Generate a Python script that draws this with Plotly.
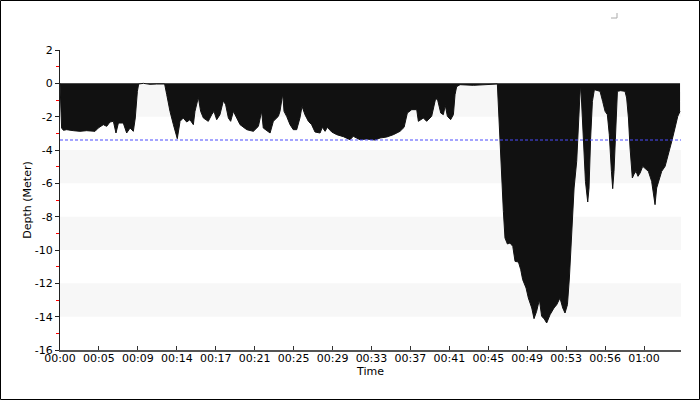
import plotly.graph_objects as go

# elapsed time (seconds) and depth (metres)
time_s = [0, 4, 10, 21, 41, 82, 123, 164, 216, 236, 267, 288, 308, 329, 345, 360, 390, 411, 432, 452,
          464, 477, 485, 514, 555, 596, 645, 658, 678, 699, 723, 740, 760, 781, 801, 822, 832, 853, 867,
          884, 914, 935, 949, 966, 986, 1007, 1021, 1038, 1052, 1069, 1089, 1110, 1151, 1192, 1223, 1243,
          1253, 1295, 1315, 1346, 1356, 1366, 1373, 1381, 1397, 1418, 1438, 1459, 1479, 1492, 1510, 1531,
          1551, 1572, 1603, 1617, 1634, 1648, 1675, 1706, 1747, 1788, 1808, 1849, 1890, 1942, 1973, 2014,
          2055, 2096, 2121, 2141, 2168, 2199, 2209, 2240, 2260, 2291, 2314, 2326, 2347, 2363, 2375, 2388,
          2408, 2425, 2435, 2445, 2466, 2548, 2630, 2696, 2700, 2712, 2723, 2733, 2743, 2758, 2774, 2791,
          2805, 2826, 2840, 2852, 2873, 2887, 2908, 2922, 2938, 2955, 2969, 2984, 3000, 3021, 3045, 3062,
          3082, 3099, 3113, 3128, 3140, 3154, 3169, 3185, 3195, 3202, 3208, 3214, 3226, 3239, 3253, 3261,
          3271, 3282, 3294, 3312, 3329, 3345, 3360, 3374, 3386, 3399, 3407, 3415, 3426, 3436, 3456, 3483,
          3493, 3504, 3514, 3528, 3539, 3551, 3563, 3576, 3592, 3608, 3627, 3647, 3660, 3668, 3678, 3693,
          3709, 3730, 3750, 3771, 3791, 3808, 3822]
depth_m = [0.0, -1.88, -2.68, -2.82, -2.78, -2.84, -2.88, -2.84, -2.88, -2.68, -2.48, -2.58, -2.32, -2.28,
           -2.98, -2.38, -2.38, -2.98, -2.68, -2.88, -2.08, -0.48, -0.04, 0.0, -0.06, -0.04, -0.04, -0.68,
           -1.68, -2.48, -3.32, -2.28, -2.08, -2.32, -2.18, -2.48, -1.68, -0.84, -1.68, -2.08, -2.28, -1.88,
           -1.68, -2.18, -1.88, -1.04, -1.28, -2.08, -2.28, -1.68, -2.08, -2.48, -2.78, -2.88, -2.58, -1.68,
           -2.68, -2.98, -2.28, -1.98, -1.68, -0.88, -0.64, -1.68, -1.98, -2.48, -2.78, -2.78, -2.08, -1.38,
           -1.88, -2.28, -2.48, -2.92, -2.98, -2.64, -2.88, -2.64, -2.92, -3.08, -3.20, -3.38, -3.18, -3.38,
           -3.34, -3.40, -3.28, -3.22, -3.08, -2.88, -2.64, -1.78, -1.58, -1.58, -2.28, -2.08, -2.28, -1.98,
           -0.98, -0.92, -1.78, -1.88, -1.32, -1.98, -2.18, -1.88, -0.68, -0.20, -0.08, -0.12, -0.08, -0.04,
           -0.88, -3.68, -5.68, -7.68, -9.28, -9.64, -9.58, -9.78, -10.68, -10.72, -11.18, -11.78, -12.28,
           -12.88, -13.48, -14.12, -13.68, -12.98, -13.98, -14.12, -14.38, -13.88, -13.48, -13.28, -12.88,
           -13.48, -13.78, -13.28, -11.68, -8.68, -6.28, -4.68, -2.68, -0.68, -0.08, -0.88, -3.68, -5.88,
           -7.12, -6.28, -3.28, -1.08, -0.38, -0.44, -0.48, -1.08, -1.68, -1.88, -3.08, -5.28, -6.32, -5.28,
           -2.28, -0.48, -0.44, -0.48, -0.88, -2.08, -3.88, -5.68, -5.44, -5.28, -5.58, -5.38, -4.98, -5.12,
           -5.28, -5.88, -6.68, -7.28, -6.28, -5.78, -5.28, -4.98, -4.28, -3.48, -2.68, -1.98, -1.68]

x_tick_vals = [0, 240, 480, 720, 960, 1200, 1440, 1680, 1920, 2160, 2400, 2640, 2880, 3120, 3360, 3600]
x_tick_text = ["00:00", "00:05", "00:09", "00:14", "00:17", "00:21", "00:25", "00:29", "00:33",
               "00:37", "00:41", "00:45", "00:49", "00:53", "00:56", "01:00"]
y_tick_vals = [2, 0, -2, -4, -6, -8, -10, -12, -14, -16]
y_tick_text = ["2", "0", "-2", "-4", "-6", "-8", "-10", "-12", "-14", "-16"]
band_ranges = [(0, -2), (-4, -6), (-8, -10), (-12, -14)]
reference_depth = -3.4
x_max = 3828

fig = go.Figure()
fig.add_trace(go.Scatter(
    x=time_s, y=depth_m, mode="lines", fill="tozeroy",
    line=dict(color="#111111", width=1), fillcolor="#111111",
    hoverinfo="skip", showlegend=False,
))

shapes = []
for top, bot in band_ranges:
    shapes.append(dict(type="rect", xref="paper", yref="y", x0=0, x1=1, y0=bot, y1=top,
                       fillcolor="#f7f7f7", line=dict(width=0), layer="below"))
shapes.append(dict(type="line", xref="paper", yref="y", x0=0, x1=1,
                   y0=reference_depth, y1=reference_depth,
                   line=dict(color="#4a4aff", width=1, dash="3px,2px"), layer="above"))
# outer frame
L, R, T, B = 60, 19, 50, 50
W, H = 700, 400
pw, ph = W - L - R, H - T - B
def px2paper(px, py):
    return (px - L) / pw, (H - B - py) / ph
fx0, fy0 = px2paper(0.5, 399.5)
fx1, fy1 = px2paper(699.5, 0.5)
shapes.append(dict(type="rect", xref="paper", yref="paper", x0=fx0, x1=fx1, y0=fy0, y1=fy1,
                   line=dict(color="black", width=1), fillcolor="rgba(0,0,0,0)"))
cx0, cy0 = px2paper(611, 18)
cx1, cy1 = px2paper(617, 13)
shapes.append(dict(type="path", xref="paper", yref="paper",
                   path=f"M {cx0} {cy0} L {cx1} {cy0} L {cx1} {cy1}",
                   line=dict(color="#aaaaaa", width=1)))

fig.update_layout(
    width=W, height=H,
    margin=dict(l=L, r=R, t=T, b=B),
    paper_bgcolor="white", plot_bgcolor="white",
    font=dict(family="DejaVu Sans", size=11, color="black"),
    shapes=shapes,
    xaxis=dict(range=[0, x_max], tickvals=x_tick_vals, ticktext=x_tick_text,
               showgrid=False, zeroline=False, showline=True, linecolor="#555555", linewidth=2,
               ticks="inside", ticklen=4, tickcolor="#333333", ticklabelstandoff=-3,
               title=dict(text="Time", standoff=0, font=dict(size=11)),
               automargin=False),
    yaxis=dict(range=[-16, 2], tickvals=y_tick_vals, ticktext=y_tick_text,
               showgrid=False, zeroline=False, showline=True, linecolor="#222222", linewidth=1,
               ticks="outside", ticklen=4, tickcolor="#222222",
               minor=dict(tick0=1, dtick=2, ticks="outside", ticklen=3, tickcolor="red"),
               title=dict(text="Depth (Meter)", standoff=0, font=dict(size=11)),
               automargin=False),
)

fig.write_html("out.html", config={"displayModeBar": False},
               post_script="document.body.style.margin='0px';")
